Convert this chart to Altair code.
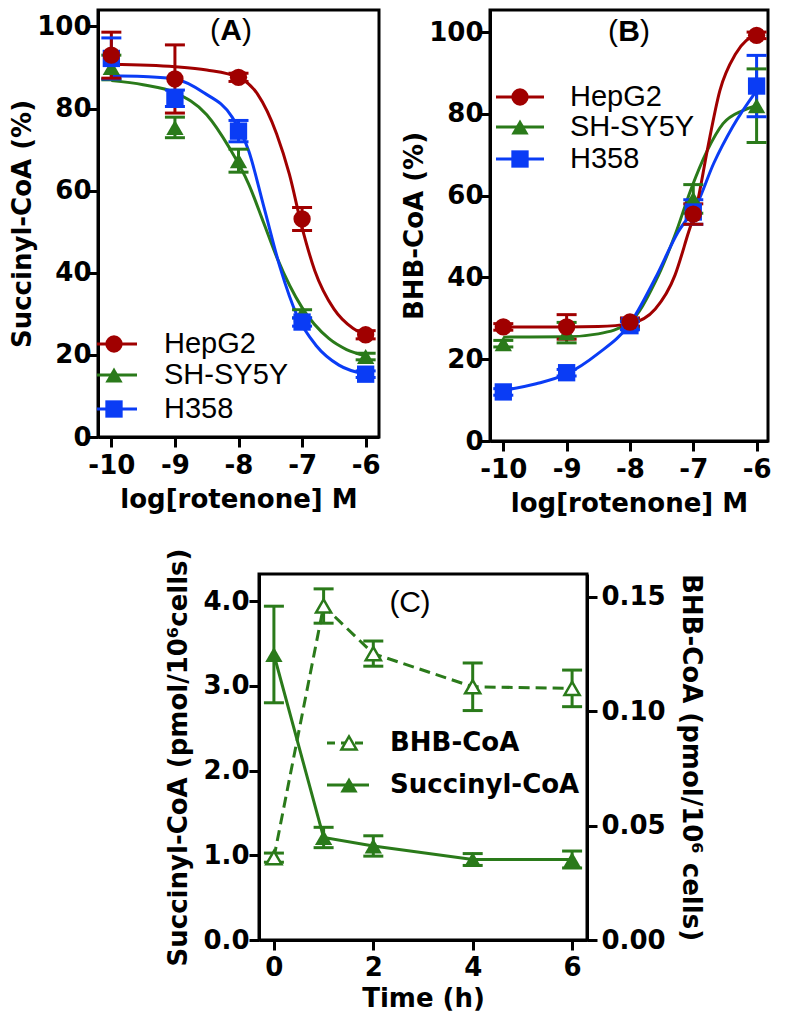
import altair as alt
import pandas as pd

# ---------------- data ----------------
log_conc = [-10, -9, -8, -7, -6]
cell_lines = ["HepG2", "SH-SY5Y", "H358"]
line_colors = ["#A00000", "#2A7A1A", "#0A3CF5"]
line_shapes = ["circle", "triangle-up", "square"]
y_ticks_pct = [0, 20, 40, 60, 80, 100]

# Panel A: Succinyl-CoA (%)
a_hepg2 = [93.0, 87.2, 87.6, 53.1, 24.9]
a_hepg2_err = [5.6, 8.3, 1.0, 2.8, 1.0]
a_shsy5y = [90.0, 75.4, 67.3, 30.0, 19.6]
a_shsy5y_err = [3.0, 2.5, 2.8, 1.0, 0.8]
a_h358 = [92.2, 82.5, 74.5, 28.0, 15.3]
a_h358_err = [5.0, 2.0, 2.6, 1.0, 0.8]

a_fit_hepg2_x = [-10, -9, -8.5, -8, -7.7, -7.4, -7.2, -7.0, -6.8, -6.5, -6.2, -6.0]
a_fit_hepg2_y = [90.8, 90.2, 89.4, 87.6, 83.5, 73.8, 64.0, 51.0, 40.5, 31.2, 26.5, 25.0]
a_fit_shsy5y_x = [-10, -9.5, -9, -8.5, -8.15, -7.84, -7.6, -7.39, -7.0, -6.58, -6.3, -6.0]
a_fit_shsy5y_y = [86.8, 85.8, 83.9, 78.5, 70.6, 61.6, 52.0, 43.5, 31.5, 24.0, 21.3, 19.8]
a_fit_h358_x = [-10, -9.5, -9, -8.55, -8.1, -7.84, -7.6, -7.34, -7.08, -6.78, -6.42, -6.0]
a_fit_h358_y = [88.0, 87.8, 87.2, 83.9, 77.9, 69.7, 56.0, 41.0, 29.6, 22.3, 17.5, 15.3]

# Panel B: BHB-CoA (%)
b_hepg2 = [27.9, 27.9, 29.1, 55.5, 99.2]
b_hepg2_err = [0.8, 3.0, 1.0, 2.5, 0.8]
b_shsy5y = [23.8, 26.5, 28.5, 59.2, 82.0]
b_shsy5y_err = [0.8, 2.5, 1.0, 3.5, 9.0]
b_h358 = [12.0, 16.7, 28.2, 56.0, 86.8]
b_h358_err = [0.8, 0.8, 1.0, 3.0, 7.5]

b_fit_hepg2_x = [-10, -9, -8.5, -8, -7.6, -7.29, -7.09, -6.94, -6.78, -6.58, -6.33, -6.0]
b_fit_hepg2_y = [27.9, 27.9, 28.0, 28.7, 32.3, 40.5, 50.3, 58.0, 71.0, 85.7, 94.7, 99.6]
b_fit_shsy5y_x = [-10, -9, -8.5, -8, -7.6, -7.29, -7.04, -6.78, -6.53, -6.22, -6.0]
b_fit_shsy5y_y = [25.4, 25.5, 26.2, 29.1, 38.9, 50.3, 61.4, 71.0, 77.6, 80.8, 82.0]
b_fit_h358_x = [-10, -9.48, -9, -8.51, -8, -7.6, -7.24, -6.94, -6.68, -6.38, -6.0]
b_fit_h358_y = [12.4, 14.0, 16.4, 21.3, 28.7, 39.8, 51.1, 58.0, 67.8, 76.8, 85.7]

# Panel C: time course
time_h = [0, 1, 2, 4, 6]
time_ticks = [0, 2, 4, 6]
c_series = ["BHB-CoA", "Succinyl-CoA"]
c_succ = [3.37, 1.21, 1.11, 0.95, 0.95]
c_succ_err = [0.57, 0.12, 0.12, 0.07, 0.10]
c_bhb = [0.036, 0.146, 0.1252, 0.1107, 0.1100]
c_bhb_err = [0.002, 0.0075, 0.0055, 0.0104, 0.008]
c_left_ticks = [0, 1, 2, 3, 4]
c_right_ticks = [0, 0.05, 0.10, 0.15]

GREEN = "#2A7A1A"
BOLD_FONT = "DejaVu Sans"
REG_FONT = "Liberation Sans"
CAP = "M-1,0L1,0"


def legend_layers(names, colors, shapes, x0, x1, xm, xt, ys, font, weight, size,
                  dashes=None, open_flags=None):
    layers = []
    for i, name in enumerate(names):
        df = pd.DataFrame({"name": [name]})
        base = alt.Chart(df)
        rule_kw = dict(strokeWidth=3, color=colors[i])
        if dashes and dashes[i]:
            rule_kw["strokeDash"] = dashes[i]
        layers.append(base.mark_rule(**rule_kw).encode(
            x=alt.value(x0), x2=alt.value(x1), y=alt.value(ys[i])))
        if open_flags and open_flags[i]:
            pt = base.mark_point(shape=shapes[i], filled=True, fill="white", stroke=colors[i],
                                 strokeWidth=2.5, size=230, opacity=1)
        else:
            pt = base.mark_point(shape=shapes[i], filled=True, color=colors[i], size=300, opacity=1)
        layers.append(pt.encode(x=alt.value(xm), y=alt.value(ys[i])))
        layers.append(base.mark_text(align="left", baseline="middle", font=font, fontWeight=weight,
                                     fontSize=size, color="black").encode(
            x=alt.value(xt), y=alt.value(ys[i]), text="name:N"))
    return layers


def panel_label(letter, xc, yc, bold_letter=True):
    out = []
    w = 11 if bold_letter else 10.5
    for k, (txt, dx) in enumerate([("(", -w - 5), (letter, 0), (")", w + 5)]):
        d = pd.DataFrame({"t": [txt]})
        fw = "bold" if (k == 1 and bold_letter) else "normal"
        out.append(alt.Chart(d).mark_text(font=REG_FONT, fontSize=30, fontWeight=fw, color="black",
                                          align="center", baseline="middle").encode(
            x=alt.value(xc + dx), y=alt.value(yc), text="t:N"))
    return out


def dose_panel(vals, errs, fx, fy, xdom, ydom, ylab, width, height, label, lab_xy, leg):
    order = ["SH-SY5Y", "H358", "HepG2"]
    pts = pd.DataFrame([{"x": x, "y": v, "err": e, "line": n}
                        for n in order for x, v, e in zip(log_conc, vals[n], errs[n])])
    fit = pd.DataFrame([{"x": x, "y": v, "line": n}
                        for n in order for x, v in zip(fx[n], fy[n])])
    xenc = alt.X("x:Q", scale=alt.Scale(domain=xdom, nice=False, zero=False),
                 axis=alt.Axis(values=log_conc, title="log[rotenone] M", labelExpr="'' + datum.value"))
    ysc = alt.Scale(domain=ydom, nice=False, zero=False)
    yax = alt.Axis(values=y_ticks_pct, title=ylab)
    col = alt.Color("line:N", scale=alt.Scale(domain=cell_lines, range=line_colors), legend=None)
    shp = alt.Shape("line:N", scale=alt.Scale(domain=cell_lines, range=line_shapes), legend=None)

    fit_l = alt.Chart(fit).mark_line(strokeWidth=3, interpolate="monotone").encode(
        x=xenc, y=alt.Y("y:Q", scale=ysc, axis=yax), color=col, detail="line:N")
    eb = alt.Chart(pts).transform_calculate(lo="datum.y - datum.err", hi="datum.y + datum.err")
    rule = eb.mark_rule(strokeWidth=3).encode(
        x=xenc, y=alt.Y("lo:Q", scale=ysc, axis=yax), y2="hi:Q", color=col)
    cap_lo = eb.mark_point(shape=CAP, size=400, strokeWidth=3, filled=False, opacity=1).encode(
        x=xenc, y=alt.Y("lo:Q", scale=ysc, axis=yax), color=col)
    cap_hi = eb.mark_point(shape=CAP, size=400, strokeWidth=3, filled=False, opacity=1).encode(
        x=xenc, y=alt.Y("hi:Q", scale=ysc, axis=yax), color=col)
    sym = alt.Chart(pts).mark_point(filled=True, size=300, opacity=1).encode(
        x=xenc, y=alt.Y("y:Q", scale=ysc, axis=yax), color=col, shape=shp)
    layers = [fit_l, rule, cap_lo, cap_hi, sym]
    layers += legend_layers(cell_lines, line_colors, line_shapes, *leg, font=REG_FONT,
                            weight="normal", size=29)
    layers += panel_label(label, *lab_xy)
    return alt.layer(*layers).properties(width=width, height=height)


panel_a = dose_panel(
    {"HepG2": a_hepg2, "SH-SY5Y": a_shsy5y, "H358": a_h358},
    {"HepG2": a_hepg2_err, "SH-SY5Y": a_shsy5y_err, "H358": a_h358_err},
    {"HepG2": a_fit_hepg2_x, "SH-SY5Y": a_fit_shsy5y_x, "H358": a_fit_h358_x},
    {"HepG2": a_fit_hepg2_y, "SH-SY5Y": a_fit_shsy5y_y, "H358": a_fit_h358_y},
    [-10.21, -5.79], [0, 104], "Succinyl-CoA (%)", 281, 427, "A", (133, 21),
    (-1, 39, 16, 66, [334, 365, 399]))

panel_b = dose_panel(
    {"HepG2": b_hepg2, "SH-SY5Y": b_shsy5y, "H358": b_h358},
    {"HepG2": b_hepg2_err, "SH-SY5Y": b_shsy5y_err, "H358": b_h358_err},
    {"HepG2": b_fit_hepg2_x, "SH-SY5Y": b_fit_shsy5y_x, "H358": b_fit_h358_x},
    {"HepG2": b_fit_hepg2_y, "SH-SY5Y": b_fit_shsy5y_y, "H358": b_fit_h358_y},
    [-10.21, -5.82], [0, 105.4], "BHB-CoA (%)", 278, 431, "B", (139, 22),
    (6, 54, 30, 80, [87, 117, 149]))

# ---------------- panel C ----------------
cdf = pd.DataFrame({"t": time_h, "succ": c_succ, "succ_err": c_succ_err,
                    "bhb": c_bhb, "bhb_err": c_bhb_err})
xc = alt.X("t:Q", scale=alt.Scale(domain=[-0.3, 6.3], nice=False, zero=False),
           axis=alt.Axis(values=time_ticks, title="Time (h)", labelPadding=4, titlePadding=5))
ysl = alt.Scale(domain=[0, 4.32], nice=False, zero=False)
yal = alt.Axis(values=c_left_ticks, format=".1f", title="Succinyl-CoA (pmol/10\u2076cells)",
               orient="left", titlePadding=11, labelPadding=0)
ysr = alt.Scale(domain=[0, 0.16], nice=False, zero=False)
yar = alt.Axis(values=c_right_ticks, format=".2f", title="BHB-CoA (pmol/10\u2076 cells)",
               orient="right", titlePadding=12, labelPadding=4)

cb = alt.Chart(cdf).transform_calculate(
    slo="datum.succ - datum.succ_err", shi="datum.succ + datum.succ_err",
    blo="datum.bhb - datum.bhb_err", bhi="datum.bhb + datum.bhb_err")

left_layers = [
    cb.mark_line(strokeWidth=3, color=GREEN).encode(x=xc, y=alt.Y("succ:Q", scale=ysl, axis=yal)),
    cb.mark_rule(strokeWidth=3, color=GREEN).encode(x=xc, y=alt.Y("slo:Q", scale=ysl, axis=yal), y2="shi:Q"),
    cb.mark_point(shape=CAP, size=400, strokeWidth=3, filled=False, color=GREEN, opacity=1).encode(
        x=xc, y=alt.Y("slo:Q", scale=ysl, axis=yal)),
    cb.mark_point(shape=CAP, size=400, strokeWidth=3, filled=False, color=GREEN, opacity=1).encode(
        x=xc, y=alt.Y("shi:Q", scale=ysl, axis=yal)),
    cb.mark_point(shape="triangle-up", filled=True, color=GREEN, size=300, opacity=1).encode(
        x=xc, y=alt.Y("succ:Q", scale=ysl, axis=yal)),
]
left_layers += legend_layers(c_series, [GREEN, GREEN], ["triangle-up", "triangle-up"],
                             68, 110, 90, 131, [169, 211], font=BOLD_FONT, weight="bold", size=26,
                             dashes=[[8, 6], None], open_flags=[True, False])
left_layers += panel_label("C", 151, 29, bold_letter=False)

right_layers = [
    cb.mark_line(strokeWidth=3, color=GREEN, strokeDash=[11, 6]).encode(
        x=xc, y=alt.Y("bhb:Q", scale=ysr, axis=yar)),
    cb.mark_rule(strokeWidth=3, color=GREEN).encode(x=xc, y=alt.Y("blo:Q", scale=ysr, axis=yar), y2="bhi:Q"),
    cb.mark_point(shape=CAP, size=400, strokeWidth=3, filled=False, color=GREEN, opacity=1).encode(
        x=xc, y=alt.Y("blo:Q", scale=ysr, axis=yar)),
    cb.mark_point(shape=CAP, size=400, strokeWidth=3, filled=False, color=GREEN, opacity=1).encode(
        x=xc, y=alt.Y("bhi:Q", scale=ysr, axis=yar)),
    cb.mark_point(shape="triangle-up", filled=True, fill="white", stroke=GREEN, strokeWidth=2.5,
                  size=230, opacity=1).encode(x=xc, y=alt.Y("bhb:Q", scale=ysr, axis=yar)),
]

panel_c = alt.layer(alt.layer(*left_layers), alt.layer(*right_layers)).resolve_scale(
    y="independent").properties(width=328, height=366)

spacer = alt.Chart(pd.DataFrame({"a": [0]})).mark_point(opacity=0).encode(
    x=alt.value(0), y=alt.value(0)).properties(width=64, height=1,
                                               view=alt.ViewBackground(stroke="transparent"))

top = alt.hconcat(panel_a, panel_b, spacing=16)
bottom = alt.hconcat(spacer, panel_c, spacing=0)
chart = alt.vconcat(top, bottom, spacing=28).properties(padding=0).configure_view(
    stroke="black", strokeWidth=3
).configure_axis(
    labelFont=BOLD_FONT, labelFontWeight="bold", labelFontSize=26, labelColor="black",
    titleFont=BOLD_FONT, titleFontWeight="bold", titleFontSize=26, titleColor="black",
    domainColor="black", domainWidth=3, tickColor="black", tickWidth=3, tickSize=10,
    grid=False, labelFlush=False, labelOverlap=False
).configure_axisX(labelPadding=5, titlePadding=8).configure_axisY(labelPadding=-3, titlePadding=1)

chart.save("out.html", embed_options={"renderer": "svg", "actions": False})
